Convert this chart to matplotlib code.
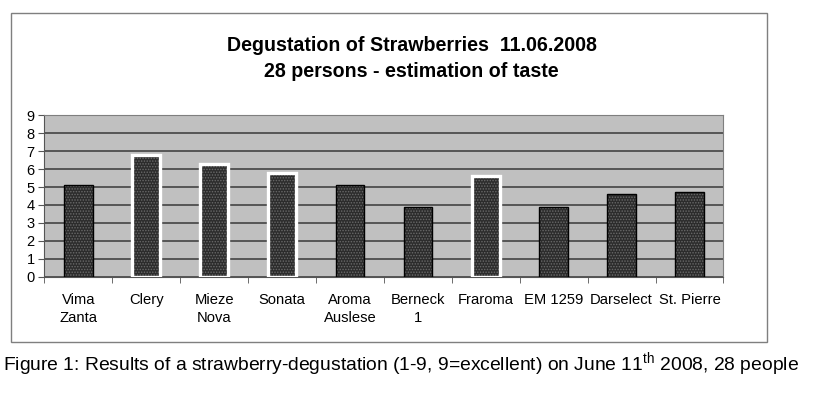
import matplotlib
matplotlib.use("Agg")
import matplotlib.pyplot as plt
from matplotlib.patches import Rectangle

plt.rcParams['font.family'] = ['Liberation Sans', 'DejaVu Sans']
plt.rcParams['mathtext.fontset'] = 'custom'
plt.rcParams['mathtext.rm'] = 'Liberation Sans'
plt.rcParams['hatch.linewidth'] = 0.7

# data
varieties = ["Vima\nZanta", "Clery", "Mieze\nNova", "Sonata", "Aroma\nAuslese",
             "Berneck\n1", "Fraroma", "EM 1259", "Darselect", "St. Pierre"]
scores = [5.1, 6.8, 6.3, 5.8, 5.1, 3.9, 5.6, 3.9, 4.6, 4.7]
highlighted = [False, True, True, True, False, False, True, False, False, False]
y_ticks = list(range(0, 10))

fig = plt.figure(figsize=(8.2, 3.96), dpi=100)
ax = fig.add_axes([0.054, 0.3013, 0.8283, 0.4075])

# outer chart frame
fig.patches.append(Rectangle((0.013, 0.1371), 0.9223, 0.8308, transform=fig.transFigure,
                             fill=False, edgecolor='#7f7f7f', linewidth=1.0))

ax.set_facecolor('#c0c0c0')
positions = list(range(len(varieties)))

# dotted fill first, then the outline on top (white for the highlighted ones)
ax.bar(positions, scores, width=0.42, color='#2c2c2c', hatch='......',
       edgecolor='#6a6a6a', linewidth=0, zorder=3)
edge_cols = ['white' if h else 'black' for h in highlighted]
edge_lws = [2.4 if h else 1.0 for h in highlighted]
ax.bar(positions, scores, width=0.42, fill=False,
       edgecolor=edge_cols, linewidth=edge_lws, zorder=4)

ax.set_xlim(-0.5, len(varieties) - 0.5)
ax.set_ylim(0, 9)
ax.set_yticks(y_ticks)
ax.yaxis.grid(True, color='#4d4d4d', linewidth=1.3, zorder=1)
ax.set_axisbelow(True)

ax.set_xticks(positions)
ax.set_xticklabels(varieties, fontsize=10.6, linespacing=1.3)
ax.set_xticks([i - 0.5 for i in range(len(varieties) + 1)], minor=True)
ax.tick_params(axis='x', which='major', length=0, pad=12)
ax.tick_params(axis='x', which='minor', length=4, color='#555555')
ax.tick_params(axis='y', length=4, pad=3, labelsize=10.5, color='#555555')

for side in ['top', 'right']:
    ax.spines[side].set_color('#7f7f7f')
ax.spines['left'].set_color('#555555')
ax.spines['bottom'].set_color('#555555')

fig.text(0.502, 0.8514, "Degustation of Strawberries  11.06.2008\n28 persons - estimation of taste",
         ha='center', va='center', fontsize=14.1, fontweight='bold', linespacing=1.45)

fig.text(0.004, 0.078,
         r"Figure 1: Results of a strawberry-degustation (1-9, 9=excellent) on June 11$^{\mathrm{th}}$ 2008, 28 people",
         ha='left', va='center', fontsize=13.9)

fig.savefig("out.png", dpi=100)
